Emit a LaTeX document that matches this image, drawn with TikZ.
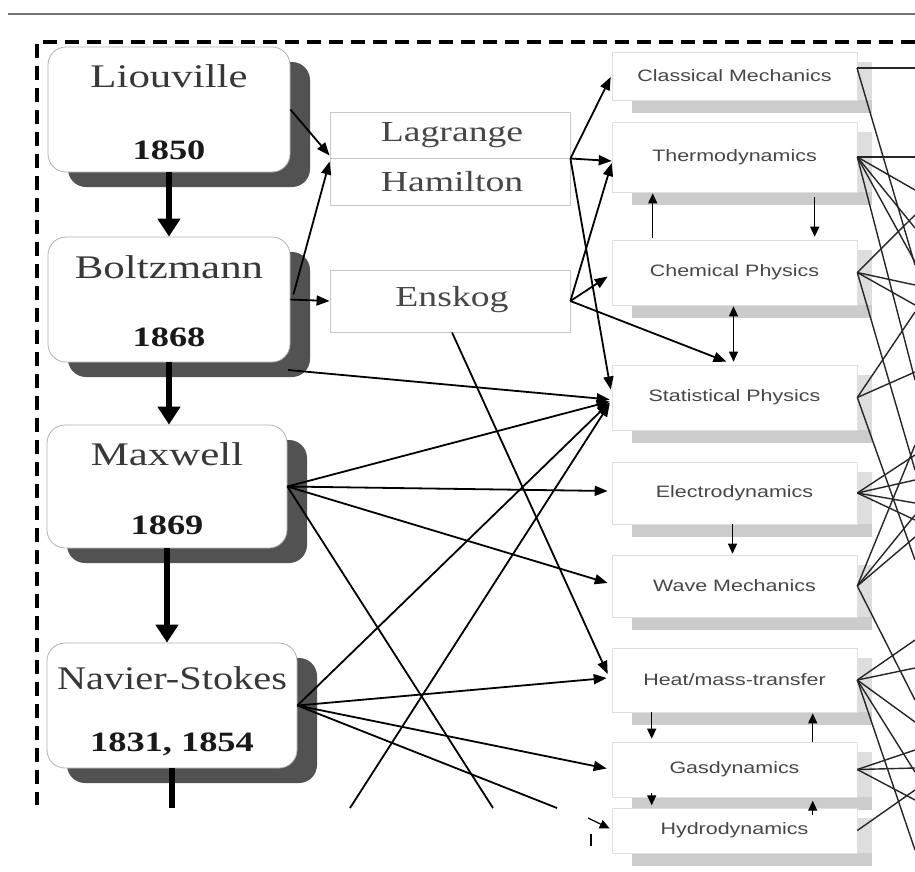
\documentclass[tikz,border=0pt]{standalone}
\usepackage{fontspec}
\usetikzlibrary{arrows.meta,calc}
\newfontfamily\serifW[FakeStretch=1.3]{Liberation Serif}
\newfontfamily\sansW[FakeStretch=1.3]{Liberation Sans}
\tikzset{
  leftbox/.style={draw=black!30, fill=white, rounded corners=18pt, line width=0.8pt, inner sep=0pt, minimum width=242pt, minimum height=125pt},
  shadowbox/.style={fill=black!68, rounded corners=18pt, inner sep=0pt, minimum width=242pt, minimum height=125pt},
  nametext/.style={font=\serifW\fontsize{33}{36}\selectfont, text=black!78, inner sep=0pt},
  yeartext/.style={font=\serifW\bfseries\fontsize{28}{30}\selectfont, text=black!90, inner sep=0pt},
  midbox/.style={draw=black!22, line width=0.8pt, inner sep=0pt, minimum width=240pt},
  midtext/.style={font=\serifW\fontsize{29}{32}\selectfont, text=black!72, inner sep=0pt},
  rbox/.style={draw=black!12, fill=white, line width=0.6pt, inner sep=0pt, minimum width=245pt, font=\sansW\fontsize{16.5}{18}\selectfont, text=black!72},
  band/.style={fill=black!20},
  strip/.style={fill=black!13},
  bigarrow/.style={line width=5.5pt, -{Triangle[length=18pt,width=22pt]}},
  bigline/.style={line width=5.5pt},
  arr/.style={line width=1.8pt, -{Triangle[length=13pt,width=10pt]}},
  conn/.style={line width=1.8pt},
  smallarr/.style={line width=1.2pt, -{Triangle[length=10pt,width=9pt]}},
  dblarr/.style={line width=1.2pt, {Triangle[length=10pt,width=9pt]}-{Triangle[length=10pt,width=9pt]}},
  mesh/.style={line width=1.4pt, black!85},
}
\begin{document}
\begin{tikzpicture}[x=1pt,y=-1pt]
\useasboundingbox (0,0) rectangle (915,871);
\fill[white] (0,0) rectangle (915,871);
% top rule and dashed frame
\coordinate (topL) at (8,14);
\coordinate (topR) at (915,14);
\draw[black!55, line width=2pt] (topL) -- (topR);
\coordinate (frTR) at (915,42);
\coordinate (frTL) at (37,42);
\coordinate (frBL) at (37,805);
\draw[line width=4.5pt, dash pattern=on 14pt off 8pt] (frTR) -- (frTL) -- (frBL);

% ---------- left column ----------
\node[shadowbox] (Ls) at (189,124.5) {};
\node[leftbox] (L) at (169,109.5) {};
\node[nametext] (Lname) at (169,76) {Liouville};
\node[yeartext] (Lyear) at (169,150) {1850};

\node[shadowbox] (Bs) at (189,314.5) {};
\node[leftbox] (B) at (169,299.5) {};
\node[nametext] (Bname) at (169,267) {Boltzmann};
\node[yeartext] (Byear) at (169,337) {1868};

\node[shadowbox, minimum width=240pt, minimum height=123pt] (Ms) at (187,501.5) {};
\node[leftbox, minimum width=240pt, minimum height=123pt] (M) at (167,486.5) {};
\node[nametext] (Mname) at (167,454) {Maxwell};
\node[yeartext] (Myear) at (167,525) {1869};

\node[shadowbox, minimum width=250pt] (Ns) at (192,720.5) {};
\node[leftbox, minimum width=250pt] (N) at (172,705.5) {};
\node[nametext, xscale=0.94] (Nname) at (172,678) {Navier-Stokes};
\node[yeartext] (Nyear) at (172,744) {1831, 1854};

\draw[bigarrow] (L.south) -- (B.north);
\draw[bigarrow] (B.south) -- (B.south |- M.north);
\draw[bigarrow] (M.south) -- (M.south |- N.north);
\coordinate (Ncut0) at (172,808);
\draw[bigline] (N.south) -- (Ncut0);

% ---------- middle column ----------
\node[midbox, minimum height=93pt] (LH) at (450,158.5) {};
\coordinate (LHmL) at (330,158);
\coordinate (LHmR) at (570,158);
\draw[black!22, line width=0.8pt] (LHmL) -- (LHmR);
\node[midtext] (Lag) at (452,135) {Lagrange};
\node[midtext] (Ham) at (452,182) {Hamilton};
\node[midbox, minimum height=62pt] (E) at (450,301) {};
\node[midtext] (Ens) at (452,300) {Enskog};

% ---------- right column ----------
\foreach \n/\t/\b/\lab in {CM/52/100/{Classical Mechanics},TH/122/192/{Thermodynamics},CP/240/305/{Chemical Physics},SP/365/430/{Statistical Physics},ED/462/524/{Electrodynamics},WM/555/617/{Wave Mechanics},HM/648/712/{Heat/mass-transfer},GD/742/797/{Gasdynamics},HD/808/853/{Hydrodynamics}}{
  \pgfmathsetmacro\hh{\b-\t}
  \pgfmathsetmacro\cy{(\t+\b)/2}
  \fill[strip] (857,{\t+10}) rectangle (872,\b);
  \fill[band] (632,\b) rectangle (872,{\b+13});
  \node[rbox, minimum height=\hh pt] (\n) at (734.5,\cy) {\lab};
}

% vertical links in right column
\draw[smallarr] ($(CP.north west)+(41,-2)$) -- ($(TH.south west)+(41,1)$);
\draw[smallarr] ($(TH.south west)+(203,5)$) -- ($(CP.north west)+(203,-3)$);
\draw[dblarr] ($(CP.south)+(-1,1)$) -- ($(SP.north)+(-1,-3)$);
\draw[smallarr] ($(ED.south)+(-2,0)$) -- ($(WM.north)+(-2,-1)$);
\draw[smallarr] ($(HM.south west)+(40,0)$) -- ($(GD.north west)+(40,-3)$);
\draw[smallarr] ($(GD.north west)+(201,0)$) -- ($(HM.south west)+(201,1)$);
\draw[smallarr] ($(GD.south west)+(40,-4)$) -- ($(GD.south west)+(40,8)$);
\draw[smallarr] ($(HD.north west)+(201,7)$) -- ($(HD.north west)+(201,-7)$);
\coordinate (HDa) at (588,818);
\coordinate (HDt1) at (591,834);
\coordinate (HDt2) at (591,846);
\draw[smallarr] (HDa) -- ($(HD.west)+(-2,-2)$);
\draw[line width=1.8pt] (HDt1) -- (HDt2);

% ---------- connectors ----------
\draw[arr] (L.east) -- ($(LH.west)+(0,-3)$);
\draw[arr] ($(B.east)+(3,-5)$) -- ($(LH.west)+(0,3)$);
\draw[arr] (B.east) -- (E.west);
\coordinate (Bb) at (288,370);
\draw[arr] (Bb) -- ($(SP.west)+(-2,2)$);

\draw[arr] (LH.east) -- ($(CM.west)+(-1,1)$);
\draw[arr] (LH.east) -- ($(TH.west)+(0,4)$);
\draw[arr] (LH.east) -- ($(SP.west)+(-1,-8)$);

\draw[arr] (E.east) -- ($(TH.west)+(0,6)$);
\draw[arr] (E.east) -- ($(CP.west)+(-4,4)$);
\draw[arr] (E.east) -- ($(SP.north)+(-8,-3)$);
\draw[arr] ($(E.south)+(2,0)$) -- ($(HM.west)+(-4,-6)$);

\coordinate (Mcut) at (493,808);
\draw[arr] (M.east) -- ($(SP.west)+(-2,4)$);
\draw[arr] (M.east) -- ($(ED.west)+(-4,-2)$);
\draw[arr] (M.east) -- ($(WM.west)+(-4,-3)$);
\draw[conn] (M.east) -- (Mcut);

\coordinate (Ncut) at (557,808);
\coordinate (Bcut) at (350,808);
\draw[arr] (N.east) -- ($(SP.west)+(-2,5)$);
\draw[arr] (N.east) -- ($(HM.west)+(-5,-2)$);
\draw[arr] (N.east) -- ($(GD.west)+(-5,-1)$);
\draw[conn] (N.east) -- (Ncut);
\draw[arr] (Bcut) -- ($(SP.west)+(-2,6)$);

% ---------- mesh on the right ----------
\foreach \y in {68,157,190,215,228,262,265,285,305,312,372,380,445,455,470,480,503,515,520,537,560,640,668,700,722,750,768,772,790,800,850}{
  \coordinate (r\y) at (915,\y);
}
\coordinate (CMr) at (857,68);
\draw[mesh] (CMr) -- (r68);
\draw[mesh] (CMr) -- (r265);
\foreach \t in {157,190,228,262,380}{\draw[mesh] (TH.east) -- (r\t);}
\foreach \t in {215,285,305,470}{\draw[mesh] (CP.east) -- (r\t);}
\foreach \t in {312,372,560}{\draw[mesh] (SP.east) -- (r\t);}
\foreach \t in {455,480,503,520}{\draw[mesh] (ED.east) -- (r\t);}
\foreach \t in {445,515,537,700}{\draw[mesh] (WM.east) -- (r\t);}
\foreach \t in {640,668,722,772,850}{\draw[mesh] (HM.east) -- (r\t);}
\foreach \t in {750,768,800}{\draw[mesh] (GD.east) -- (r\t);}
\draw[mesh] (HD.east) -- (r790);
\end{tikzpicture}
\end{document}
